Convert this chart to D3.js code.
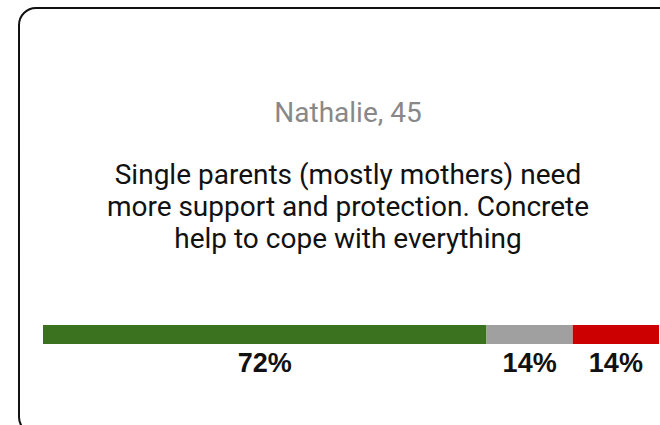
<!DOCTYPE html>
<html>
<head>
<meta charset="utf-8">
<script src="https://cdn.jsdelivr.net/npm/d3@7"></script>
<style>
  html, body { margin: 0; padding: 0; background: #fff; }
  svg { display: block; }
</style>
</head>
<body>
<svg id="chart"></svg>
<script>
const AUTHOR = "Nathalie, 45";
const QUOTE_LINES = [
  "Single parents (mostly mothers) need",
  "more support and protection. Concrete",
  "help to cope with everything",
];
const CATEGORIES = ["agree", "neutral", "disagree"];
const VALUES     = [72, 14, 14];
const COLORS     = ["#3a7220", "#a0a0a0", "#cc0000"];

const W = 660, H = 425;
const svg = d3.select("#chart").attr("width", W).attr("height", H);

// card outline (runs off the right and bottom edges)
svg.append("rect")
  .attr("x", 19).attr("y", 8)
  .attr("width", 720).attr("height", 426)
  .attr("rx", 17)
  .attr("fill", "#fff")
  .attr("stroke", "#111")
  .attr("stroke-width", 2);

const cx = 348;

svg.append("text")
  .attr("x", cx).attr("y", 122)
  .attr("text-anchor", "middle")
  .attr("font-family", "Roboto")
  .attr("font-size", 28)
  .attr("fill", "#888")
  .text(AUTHOR);

svg.append("g")
  .selectAll("text")
  .data(QUOTE_LINES)
  .join("text")
    .attr("x", cx)
    .attr("y", (d, i) => 184 + i * 32)
    .attr("text-anchor", "middle")
    .attr("font-family", "Roboto")
    .attr("font-size", 28)
    .attr("fill", "#111")
    .text(d => d);

const stacked = [];
let acc = 0;
VALUES.forEach((v, i) => {
  stacked.push({ cat: CATEGORIES[i], v, x0: acc, x1: acc + v, color: COLORS[i] });
  acc += v;
});

const x = d3.scaleLinear().domain([0, 100]).range([43, 659]);

svg.append("g")
  .selectAll("rect")
  .data(stacked)
  .join("rect")
    .attr("x", d => x(d.x0))
    .attr("y", 325)
    .attr("width", d => x(d.x1) - x(d.x0))
    .attr("height", 19)
    .attr("fill", d => d.color);

svg.append("g")
  .selectAll("text")
  .data(stacked)
  .join("text")
    .attr("x", d => (x(d.x0) + x(d.x1)) / 2)
    .attr("y", 372)
    .attr("text-anchor", "middle")
    .attr("font-family", "Liberation Sans, Arial, sans-serif")
    .attr("font-weight", "bold")
    .attr("font-size", 27)
    .attr("fill", "#111")
    .text(d => d.v + "%");
</script>
</body>
</html>
